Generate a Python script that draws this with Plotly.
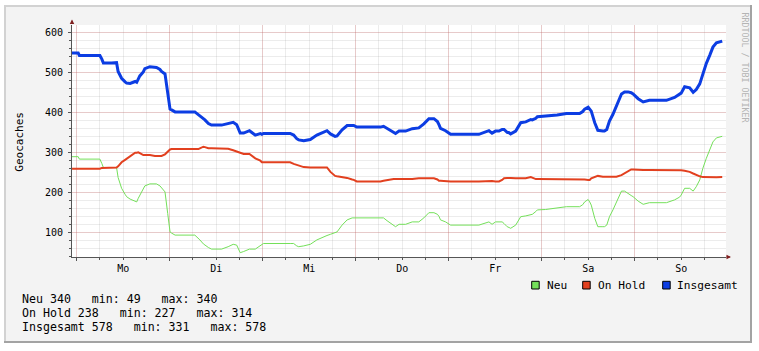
import plotly.graph_objects as go

# ---------------- data (hours since first sample, values) ----------------
hours = [0.0, 1.6, 1.9, 7.2, 7.7, 8.1, 10.2, 11.5, 11.9, 12.4,
         12.8, 13.7, 14.1, 15.0, 15.4, 16.3, 16.7, 17.1, 17.5, 18.4,
         18.8, 20.1, 21.4, 21.8, 22.7, 23.1, 24.0, 24.7, 25.0, 25.3,
         25.7, 26.6, 31.7, 32.6, 33.0, 33.9, 34.3, 35.2, 36.0, 38.6,
         40.3, 41.6, 42.5, 43.4, 44.3, 44.6, 45.8, 47.3, 48.6, 49.0,
         49.4, 56.3, 57.2, 58.0, 58.5, 59.8, 61.5, 63.2, 64.9, 65.8,
         66.7, 67.9, 68.4, 69.7, 71.0, 72.3, 72.7, 73.5, 79.6, 80.4,
         81.3, 81.7, 83.0, 83.5, 84.4, 86.1, 87.8, 89.5, 90.8, 92.1,
         93.4, 94.3, 94.7, 95.1, 96.4, 97.3, 97.7, 105.0, 106.3, 107.6,
         108.4, 109.3, 110.2, 111.0, 111.5, 112.3, 112.8, 113.2, 114.5, 115.8,
         117.1, 118.4, 118.8, 119.7, 120.1, 122.2, 125.2, 127.6, 131.0, 131.8,
         132.3, 133.2, 133.6, 134.0, 134.9, 135.7, 137.0, 137.4, 138.0, 138.7,
         139.6, 140.5, 141.8, 142.6, 143.0, 143.5, 144.3, 144.8, 146.1, 147.4,
         149.0, 153.4, 155.5, 156.8, 157.2, 158.1, 159.4, 160.3, 161.1, 162.0,
         162.8, 163.7, 164.6, 165.4, 166.3, 167.8]

neu = [289, 289, 283, 283, 272, 262, 262, 262, 237, 222,
       210, 195, 189, 183, 181, 178, 176, 185, 193, 208,
       216, 221, 221, 221, 216, 211, 201, 147, 124, 101,
       98, 93, 93, 86, 81, 71, 68, 62, 58, 58,
       64, 70, 68, 49, 52, 53, 58, 58, 68, 70,
       72, 72, 72, 66, 64, 66, 70, 81, 89, 92,
       95, 99, 101, 118, 131, 136, 136, 136, 136, 136,
       129, 126, 118, 114, 120, 120, 126, 126, 136, 149,
       149, 145, 140, 131, 126, 120, 118, 118, 122, 126,
       120, 126, 126, 126, 122, 114, 112, 110, 118, 139,
       141, 144, 145, 152, 156, 157, 160, 164, 164, 169,
       176, 182, 176, 168, 135, 114, 114, 114, 118, 139,
       156, 176, 203, 203, 200, 197, 192, 189, 178, 170,
       174, 174, 181, 188, 193, 210, 210, 203, 214, 231,
       260, 285, 306, 326, 336, 340]

on_hold = [259, 259, 259, 259, 261, 261, 261, 262, 265, 272,
           275, 281, 284, 289, 292, 299, 299, 300, 298, 293,
           293, 293, 291, 291, 291, 291, 295, 303, 306, 307,
           308, 308, 308, 308, 310, 314, 313, 310, 310, 310,
           309, 305, 301, 299, 296, 296, 296, 285, 279, 275,
           275, 275, 271, 268, 267, 263, 262, 262, 262, 262,
           251, 241, 240, 238, 236, 232, 231, 227, 227, 229,
           231, 231, 233, 233, 233, 233, 233, 235, 235, 235,
           235, 232, 229, 229, 228, 228, 227, 227, 228, 228,
           228, 227, 227, 231, 235, 236, 237, 236, 235, 235,
           235, 238, 236, 233, 233, 233, 233, 233, 233, 233,
           232, 231, 231, 235, 239, 241, 239, 239, 239, 239,
           239, 239, 243, 248, 251, 254, 257, 257, 256, 256,
           256, 256, 256, 256, 255, 254, 251, 247, 243, 240,
           238, 237.5, 237, 237, 237.5, 238]

# Insgesamt is the sum of both data sources (as in the original CDEF)
insgesamt = [a + b for a, b in zip(neu, on_hold)]

day_labels = ["Mo", "Di", "Mi", "Do", "Fr", "Sa", "So"]
series_names = ["Neu", "On Hold", "Insgesamt"]
stat_last = [340, 238, 578]
stat_min = [49, 227, 331]
stat_max = [340, 314, 578]

# ---------------- layout geometry ----------------
W, H = 759, 351
L, R, T, B = 72, 33, 25, 94
PW, PH = W - L - R, H - T - B
MIDNIGHT0 = 1.2          # Monday 00:00 in hours since first sample
X_RANGE = [0, PW / 3.875]
Y_RANGE = [38.25, 38.25 + PH * 2.5]


def px(x):
    return (x - L) / PW


def py(y):
    return (H - B - y) / PH


colors = ["#74e05a", "#e2401f", "#0c3de3"]
widths = [1, 2, 3]
MONO = "DejaVu Sans Mono"

fig = go.Figure()
fig.add_trace(go.Scatter(x=hours, y=neu, mode="lines", name="Neu",
                         line=dict(color=colors[0], width=widths[0])))
fig.add_trace(go.Scatter(x=hours, y=on_hold, mode="lines", name="On Hold",
                         line=dict(color=colors[1], width=widths[1])))
fig.add_trace(go.Scatter(x=hours, y=insgesamt, mode="lines", name="Insgesamt",
                         xaxis="x2",
                         line=dict(color=colors[2], width=widths[2])))

midnights = [MIDNIGHT0 + 24 * k for k in range(7)]
noons = [MIDNIGHT0 + 12 + 24 * k for k in range(7)]

MGRID = "rgba(214,70,70,0.20)"
GRID = "rgba(140,140,140,0.17)"
AXIS = "#555555"

fig.update_layout(
    width=W, height=H,
    margin=dict(l=L, r=R, t=T, b=B, pad=0),
    paper_bgcolor="white",
    plot_bgcolor="white",
    showlegend=False,
    font=dict(family=MONO, size=10, color="black"),
    xaxis=dict(range=X_RANGE, tickmode="array", tickvals=midnights,
               showticklabels=False, showgrid=True, gridcolor=MGRID,
               gridwidth=1, zeroline=False, showline=True, linecolor=AXIS,
               linewidth=1, ticks="outside", ticklen=3, tickcolor=AXIS,
               minor=dict(tick0=MIDNIGHT0, dtick=6, showgrid=True,
                          gridcolor=GRID, ticks="outside", ticklen=2,
                          tickcolor=AXIS)),
    xaxis2=dict(range=X_RANGE, overlaying="x", anchor="y", side="bottom",
                tickmode="array", tickvals=noons, ticktext=day_labels,
                showgrid=False, zeroline=False, showline=False, ticks="",
                tickfont=dict(family=MONO, size=10, color="black"),
                ticklabelstandoff=4),
    yaxis=dict(range=Y_RANGE, tickmode="array",
               tickvals=[100, 200, 300, 400, 500, 600],
               showgrid=True, gridcolor=MGRID, zeroline=False,
               showline=True, linecolor=AXIS, linewidth=1,
               ticks="outside", ticklen=3, tickcolor=AXIS,
               ticklabelstandoff=3,
               tickfont=dict(family=MONO, size=10, color="black"),
               minor=dict(tick0=0, dtick=20, showgrid=True, gridcolor=GRID,
                          ticks="outside", ticklen=2, tickcolor=AXIS)),
)

# ---------------- frame (rrdtool style shaded border) ----------------
shapes = [
    dict(type="rect", xref="paper", yref="paper", layer="below",
         x0=px(4), x1=px(752), y0=py(343), y1=py(5),
         fillcolor="#a3a3a3", line=dict(width=0)),
    dict(type="rect", xref="paper", yref="paper", layer="below",
         x0=px(4), x1=px(750), y0=py(341), y1=py(5),
         fillcolor="#d2d2d2", line=dict(width=0)),
    dict(type="rect", xref="paper", yref="paper", layer="below",
         x0=px(6), x1=px(750), y0=py(341), y1=py(7),
         fillcolor="#f3f3f3", line=dict(width=0)),
    dict(type="rect", xref="paper", yref="paper", layer="below",
         x0=0, x1=1, y0=0, y1=1,
         fillcolor="white", line=dict(width=0)),
]

# legend boxes
legend_box_x = [531.7, 582.7, 662.7]
legend_text_x = [545.3, 596.3, 675.3]
for bx, c in zip(legend_box_x, colors):
    shapes.append(dict(type="rect", xref="paper", yref="paper",
                       x0=px(bx), x1=px(bx + 7.5), y0=py(289), y1=py(281.3),
                       fillcolor=c, line=dict(color="black", width=1)))
fig.update_layout(shapes=shapes)

ann = []
for tx, name in zip(legend_text_x, series_names):
    ann.append(dict(x=px(tx), y=py(285.2), xref="paper", yref="paper",
                    text=name.replace(" ", "\u00a0"), showarrow=False,
                    xanchor="left", yanchor="middle",
                    font=dict(family=MONO, size=11.2, color="black")))

stat_y = [299.3, 313.3, 327.3]
for name, last, mn, mx, sy in zip(series_names, stat_last, stat_min,
                                  stat_max, stat_y):
    txt = f"{name} {last}   min: {mn}   max: {mx}".replace(" ", "\u00a0")
    ann.append(dict(x=px(20.3), y=py(sy), xref="paper", yref="paper",
                    text=txt, showarrow=False, xanchor="left",
                    yanchor="middle",
                    font=dict(family=MONO, size=11.6, color="black")))

# y axis title
ann.append(dict(x=px(20), y=py(141.7), xref="paper", yref="paper",
                text="Geocaches", textangle=-90, showarrow=False,
                xanchor="center", yanchor="middle",
                font=dict(family=MONO, size=11, color="black")))
# watermark
ann.append(dict(x=px(744.5), y=py(67), xref="paper", yref="paper",
                text="RRDTOOL\u00a0/\u00a0TOBI\u00a0OETIKER", textangle=90,
                showarrow=False, xanchor="center", yanchor="middle",
                font=dict(family=MONO, size=8.3, color="#b4b4b4")))

# axis arrows
ARROW = "#7f1f1f"
ann.append(dict(x=px(731), y=py(257), xref="paper", yref="paper",
                text="", showarrow=True, ax=-6, ay=0, arrowhead=2,
                arrowsize=0.9, arrowwidth=1, arrowcolor=ARROW,
                standoff=0, startstandoff=0))
ann.append(dict(x=px(72), y=py(19.5), xref="paper", yref="paper",
                text="", showarrow=True, ax=0, ay=6, arrowhead=2,
                arrowsize=0.9, arrowwidth=1, arrowcolor=ARROW,
                standoff=0, startstandoff=0))
fig.update_layout(annotations=ann)

fig.write_html("out.html")
